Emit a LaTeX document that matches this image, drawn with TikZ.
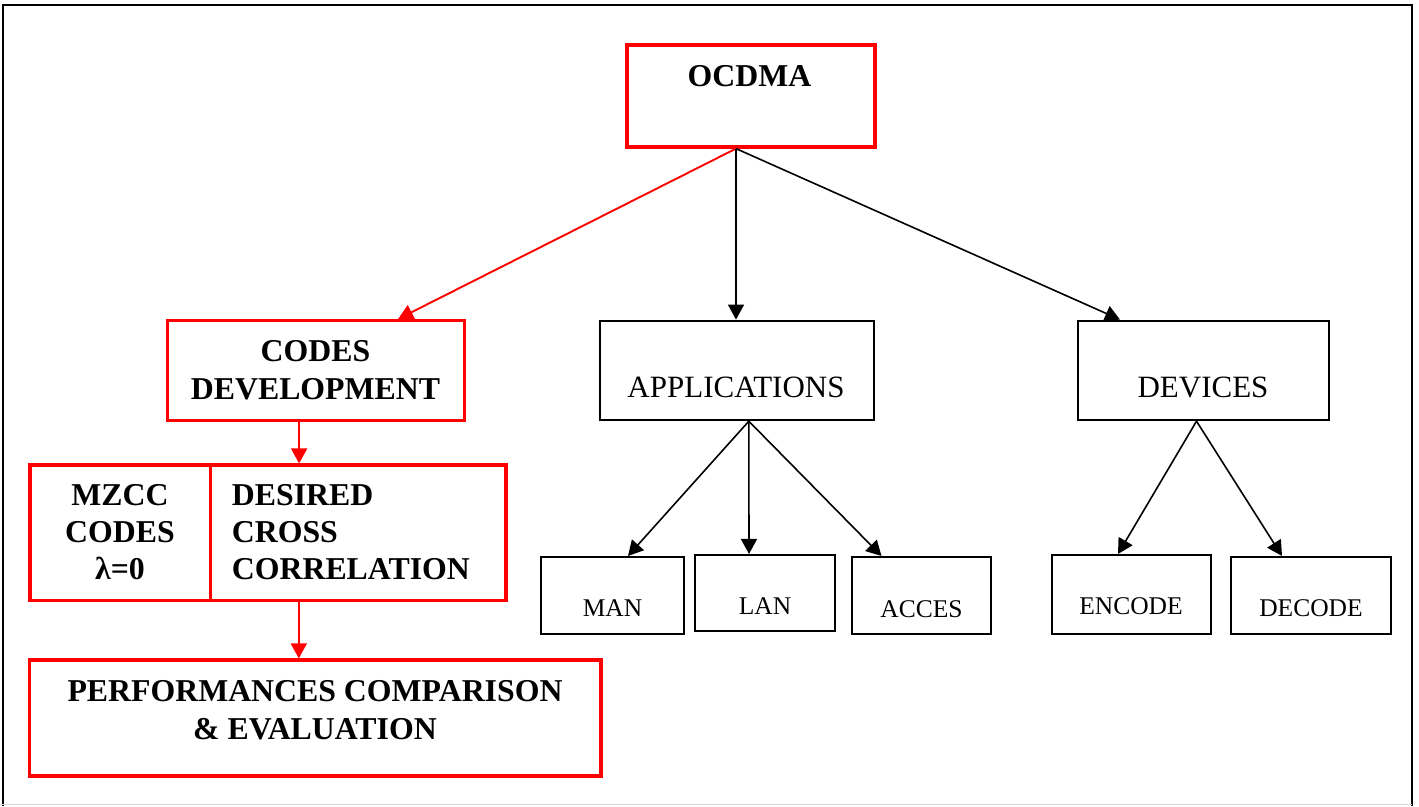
\documentclass[tikz,border=0pt]{standalone}
\usepackage{fontspec}
\setmainfont{Liberation Serif}
\usetikzlibrary{arrows.meta,calc}
\begin{document}
\begin{tikzpicture}[x=1pt,y=-1pt,
  redbox/.style={draw=red, line width=3.2pt, inner sep=0pt},
  blackbox/.style={draw=black, line width=2.1pt, inner sep=0pt},
  bigbold/.style={inner sep=0pt, font=\fontsize{31.8}{38}\selectfont\bfseries},
  bigbolds/.style={inner sep=0pt, font=\fontsize{31.8}{37}\selectfont\bfseries},
  bignorm/.style={inner sep=0pt, font=\fontsize{31}{37}\selectfont},
  smallnorm/.style={inner sep=0pt, font=\fontsize{25.5}{30}\selectfont},
  blackarrow/.style={draw=black, line width=1.6pt, -{Triangle[length=15pt,width=16pt]}},
  redarrow/.style={draw=red, line width=1.9pt, -{Triangle[length=15pt,width=16pt]}}
]
\useasboundingbox (0,0) rectangle (1419,806);
% outer frame
\draw[line width=2.2pt] (3,806) -- (3,5) -- (1412,5) -- (1412,806);
\draw[black!15, line width=1pt] (0,804.5) -- (1412,804.5);

% boxes
\node[redbox, minimum width=248, minimum height=102] (ocdma) at (751,96) {};
\node[redbox, minimum width=297, minimum height=100] (codes) at (315.6,370.6) {};
\node[blackbox, minimum width=274, minimum height=99.5] (apps) at (736.8,370.4) {};
\node[blackbox, minimum width=251, minimum height=99.5] (devices) at (1203.5,370.4) {};
\node[redbox, minimum width=180.5, minimum height=135.7] (mzcc) at (120.2,532.9) {};
\node[redbox, minimum width=295.5, minimum height=135.7] (desired) at (358.2,532.9) {};
\node[redbox, minimum width=571.4, minimum height=116] (perf) at (315.3,718) {};
\node[blackbox, minimum width=143, minimum height=77] (man) at (612.5,595.5) {};
\node[blackbox, minimum width=140, minimum height=76] (lan) at (765,593) {};
\node[blackbox, minimum width=139, minimum height=77] (acces) at (921.5,595.5) {};
\node[blackbox, minimum width=159, minimum height=79] (encode) at (1131.5,594.5) {};
\node[blackbox, minimum width=160, minimum height=77] (decode) at (1311,595.5) {};

% texts
\node[bigbold] (tocdma) at (749.5,76) {OCDMA};
\node[bigbold, align=center] (tcodes) at (315.5,370) {CODES\\DEVELOPMENT};
\node[bignorm] (tapps) at (736,387.5) {APPLICATIONS};
\node[bignorm] (tdevices) at (1203,387.5) {DEVICES};
\node[bigbolds, align=center] (tmzcc) at (120,532) {MZCC\\CODES\\λ=0};
\node[bigbolds, align=left, anchor=west] (tdesired) at (231.7,532) {DESIRED\\CROSS\\CORRELATION};
\node[bigbold, align=center] (tperf) at (315,710) {PERFORMANCES COMPARISON\\\& EVALUATION};
\node[smallnorm] (tman) at (612.5,608) {MAN};
\node[smallnorm] (tlan) at (765,606) {LAN};
\node[smallnorm] (tacces) at (921.5,609) {ACCES};
\node[smallnorm] (tencode) at (1131,606) {ENCODE};
\node[smallnorm] (tdecode) at (1311,608) {DECODE};

% connectors
\coordinate (ob) at ([xshift=-15]ocdma.south);
\draw[redarrow] (ob) -- ([xshift=82.5]codes.north);
\draw[blackarrow] (ob) -- (ob |- apps.north);
\draw[blackarrow] (ob) -- ([xshift=-83.5]devices.north);
\draw[redarrow] ([xshift=-16.5]codes.south) -- ([xshift=-16.5]codes.south |- desired.north);
\draw[redarrow] ([xshift=-16.5]perf.north |- desired.south) -- ([xshift=-16.5]perf.north);
\coordinate (ab) at ([xshift=12]apps.south);
\draw[blackarrow] (ab) -- ([xshift=15.5]man.north);
\draw[blackarrow] (ab) -- ([xshift=-16]lan.north);
\draw[blackarrow] (ab) -- ([xshift=-40]acces.north);
\coordinate (db) at ([xshift=-7]devices.south);
\draw[blackarrow] (db) -- ([xshift=-13.5]encode.north);
\draw[blackarrow] (db) -- ([xshift=-29]decode.north);
\end{tikzpicture}
\end{document}
